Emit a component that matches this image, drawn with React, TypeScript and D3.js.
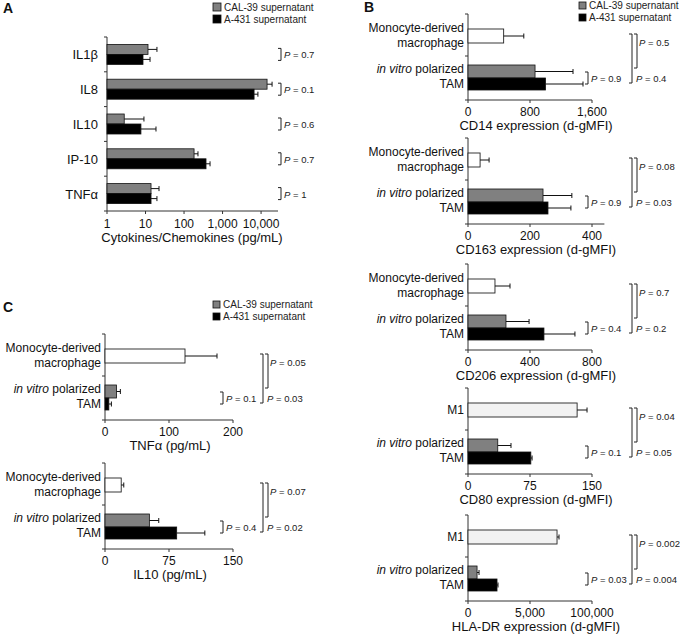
import React from 'react';
import * as d3 from 'd3';

const FONT = '"Liberation Sans", Arial, Helvetica, sans-serif';

// Panel A: cytokines (log scale)
const cytokines = ['IL1β', 'IL8', 'IL10', 'IP-10', 'TNFα'];
const cytoCal39 = [11.6, 14300, 2.8, 182, 13.9];
const cytoCal39Err = [8.2, 5000, 6.3, 48, 8.5];
const cytoA431 = [8.6, 6580, 7.6, 372, 13.9];
const cytoA431Err = [4.5, 1700, 11.1, 101, 5.9];
const cytoP = ['0.7', '0.1', '0.6', '0.7', '1'];
const cytoTicks = [1, 10, 100, 1000, 10000];
const cytoTickLabels = ['1', '10', '100', '1,000', '10,000'];

// Panel B: surface markers
const markerTitles = [
    'CD14 expression (d-gMFI)',
    'CD163 expression (d-gMFI)',
    'CD206 expression (d-gMFI)',
    'CD80 expression (d-gMFI)',
    'HLA-DR expression (d-gMFI)'
];
const markerRef = ['macrophage', 'macrophage', 'macrophage', 'M1', 'M1'];
const markerRefValues = [460, 39, 174, 132, 7180];
const markerRefErrors = [260, 29, 97, 12, 160];
const markerCal39 = [865, 242, 245, 36, 730];
const markerCal39Err = [490, 93, 149, 16, 160];
const markerA431 = [1000, 258, 490, 76, 2340];
const markerA431Err = [484, 74, 200, 1.5, 80];
const markerMax = [1600, 440, 800, 150, 10000];
const markerTicks = [[0, 800, 1600], [0, 200, 400], [0, 400, 800], [0, 75, 150], [0, 5000, 10000]];
const markerTickLabels = [
    ['0', '800', '1,600'],
    ['0', '200', '400'],
    ['0', '400', '800'],
    ['0', '75', '150'],
    ['0', '5,000', '100,000']
];
const markerPInner = ['0.9', '0.9', '0.4', '0.1', '0.03'];
const markerPTop = ['0.5', '0.08', '0.7', '0.04', '0.002'];
const markerPBottom = ['0.4', '0.03', '0.2', '0.05', '0.004'];
const markerTops = [14, 138, 264, 388, 515];

// Panel C: secreted cytokines
const secTitles = ['TNFα (pg/mL)', 'IL10 (pg/mL)'];
const secRefValues = [125, 19];
const secRefErrors = [50, 3];
const secCal39 = [18, 52];
const secCal39Err = [6, 11];
const secA431 = [6, 84];
const secA431Err = [4, 33];
const secMax = [200, 150];
const secTicks = [[0, 100, 200], [0, 75, 150]];
const secTickLabels = [['0', '100', '200'], ['0', '75', '150']];
const secPInner = ['0.1', '0.4'];
const secPTop = ['0.05', '0.07'];
const secPBottom = ['0.03', '0.02'];
const secTops = [334, 463];

const GRAY = '#808080';

function PText({ x, y, value }) {
    return (
        <text x={x} y={y} fontSize={9.5} fontFamily={FONT} fill="#222">
            <tspan fontStyle="italic">P</tspan>
            {` = ${value}`}
        </text>
    );
}

function Bracket({ x, y1, y2 }) {
    return <path d={`M${x - 3},${y1}H${x}V${y2}H${x - 3}`} fill="none" stroke="#222" strokeWidth={1} />;
}

function ErrBar({ x1, x2, y }) {
    return (
        <g stroke="#111" strokeWidth={1}>
            <line x1={x1} x2={x2} y1={y} y2={y} />
            <line x1={x2} x2={x2} y1={y - 2.5} y2={y + 2.5} />
        </g>
    );
}

function Legend({ x, y, size }) {
    return (
        <g fontFamily={FONT} fontSize={10} fill="#222">
            <rect x={x} y={y} width={size} height={size} fill={GRAY} stroke="#111" strokeWidth={0.8} />
            <text x={x + size + 3} y={y + size}>CAL-39 supernatant</text>
            <rect x={x} y={y + 12} width={size} height={size} fill="#000" stroke="#111" strokeWidth={0.8} />
            <text x={x + size + 3} y={y + 12 + size}>A-431 supernatant</text>
        </g>
    );
}

function CytokinePanel() {
    const x = d3.scaleLog().domain([1, 27500]).range([107, 278]);
    const y = d3.scaleBand().domain(cytokines).range([37, 211]);
    const bw = y.bandwidth();
    const x0 = x(1);
    return (
        <g fontFamily={FONT}>
            <g stroke="#333" strokeWidth={1}>
                <line x1={x0} x2={x0} y1={37} y2={211} />
                {cytokines.map((c) => (
                    <line key={c} x1={x0 - 3} x2={x0} y1={y(c)} y2={y(c)} />
                ))}
                <line x1={x0 - 3} x2={x0} y1={211} y2={211} />
                <line x1={x0} x2={278} y1={211} y2={211} />
                {cytoTicks.map((t) => (
                    <line key={t} x1={x(t)} x2={x(t)} y1={211} y2={214} />
                ))}
            </g>
            {cytokines.map((c, i) => {
                const cy = y(c) + bw / 2;
                return (
                    <g key={c}>
                        <text x={98} y={cy + 5} textAnchor="end" fontSize={13} fill="#111">{c}</text>
                        <rect x={x0} y={cy - 10} width={x(cytoCal39[i]) - x0} height={10} fill={GRAY} stroke="#111" strokeWidth={0.8} />
                        <rect x={x0} y={cy} width={x(cytoA431[i]) - x0} height={10} fill="#000" stroke="#111" strokeWidth={0.8} />
                        <ErrBar x1={x(cytoCal39[i])} x2={x(cytoCal39[i] + cytoCal39Err[i])} y={cy - 5} />
                        <ErrBar x1={x(cytoA431[i])} x2={x(cytoA431[i] + cytoA431Err[i])} y={cy + 5} />
                        <Bracket x={281} y1={cy - 6} y2={cy + 6} />
                        <PText x={284} y={cy + 4} value={cytoP[i]} />
                    </g>
                );
            })}
            {cytoTicks.map((t, i) => (
                <text key={t} x={x(t)} y={228} textAnchor="middle" fontSize={12} fill="#111">{cytoTickLabels[i]}</text>
            ))}
            <text x={192} y={242} textAnchor="middle" fontSize={13} fill="#111">Cytokines/Chemokines (pg/mL)</text>
        </g>
    );
}

function BarPlot({
    top, left, right, max, ticks, tickLabels, title, titleX, refKind,
    refVal, refErr, calVal, calErr, a431Val, a431Err, pIn, pTop, pBot, innerX, outerX
}) {
    const x = d3.scaleLinear().domain([0, max]).range([left, right]);
    const y = d3.scalePoint().domain(['ref', 'tam']).range([top + 22, top + 64]);
    const bottom = top + 86;
    const W = y('ref');
    const Pc = y('tam');
    const isM1 = refKind === 'M1';
    return (
        <g fontFamily={FONT} fill="#111">
            <g stroke="#333" strokeWidth={1}>
                <line x1={left} x2={left} y1={top} y2={bottom} />
                <line x1={left - 3} x2={left} y1={top} y2={top} />
                <line x1={left - 3} x2={left} y1={(W + Pc) / 2 - 1} y2={(W + Pc) / 2 - 1} />
                <line x1={left - 3} x2={left} y1={bottom} y2={bottom} />
                <line x1={left} x2={right} y1={bottom} y2={bottom} />
                {ticks.map((t) => (
                    <line key={t} x1={x(t)} x2={x(t)} y1={bottom} y2={bottom + 3} />
                ))}
            </g>
            {isM1 ? (
                <text x={left - 4} y={W + 4} textAnchor="end" fontSize={12}>M1</text>
            ) : (
                <g>
                    <text x={left - 4} y={W - 4} textAnchor="end" fontSize={12}>Monocyte-derived</text>
                    <text x={left - 4} y={W + 11} textAnchor="end" fontSize={12}>macrophage</text>
                </g>
            )}
            <text x={left - 4} y={Pc - 5} textAnchor="end" fontSize={12}>
                <tspan fontStyle="italic">in vitro</tspan>
                {' polarized'}
            </text>
            <text x={left - 4} y={Pc + 10} textAnchor="end" fontSize={12}>TAM</text>

            <rect x={left} y={W - 7} width={x(refVal) - left} height={14} fill={isM1 ? '#f2f2f2' : '#fff'} stroke="#222" strokeWidth={0.9} />
            <rect x={left} y={Pc - 13} width={x(calVal) - left} height={13} fill={GRAY} stroke="#111" strokeWidth={0.8} />
            <rect x={left} y={Pc} width={x(a431Val) - left} height={12} fill="#000" stroke="#111" strokeWidth={0.8} />
            <ErrBar x1={x(refVal)} x2={x(refVal + refErr)} y={W} />
            <ErrBar x1={x(calVal)} x2={x(calVal + calErr)} y={Pc - 6.5} />
            <ErrBar x1={x(a431Val)} x2={x(a431Val + a431Err)} y={Pc + 6} />

            <Bracket x={innerX} y1={Pc - 6} y2={Pc + 6} />
            <PText x={innerX + 3} y={Pc + 4} value={pIn} />
            <Bracket x={outerX} y1={W - 2} y2={Pc + 5} />
            <Bracket x={outerX + 5} y1={W - 2} y2={Pc - 10} />
            <PText x={outerX + 7} y={W + 10} value={pTop} />
            <PText x={outerX + 4} y={Pc + 4} value={pBot} />

            {ticks.map((t, i) => (
                <text key={t} x={x(t)} y={bottom + 16} textAnchor="middle" fontSize={12}>{tickLabels[i]}</text>
            ))}
            <text x={titleX} y={bottom + 30} textAnchor="middle" fontSize={13}>{title}</text>
        </g>
    );
}

export default function App() {
    return (
        <svg width={680} height={634} style={{ position: 'absolute', left: 0, top: 0, background: '#fff' }}>
            <rect width={680} height={634} fill="#fff" />
            <g fontFamily={FONT} fontWeight="bold" fontSize={14} fill="#111">
                <text x={3} y={13}>A</text>
                <text x={364} y={12}>B</text>
                <text x={3} y={312}>C</text>
            </g>
            <Legend x={213} y={3} size={8} />
            <Legend x={579} y={2} size={7} />
            <Legend x={213} y={301} size={7} />

            <CytokinePanel />

            {markerTitles.map((title, i) => (
                <BarPlot
                    key={title}
                    top={markerTops[i]}
                    left={468}
                    right={468 + (124 * markerMax[i]) / markerTicks[i][2]}
                    max={markerMax[i]}
                    ticks={markerTicks[i]}
                    tickLabels={markerTickLabels[i]}
                    title={title}
                    titleX={536}
                    refKind={markerRef[i]}
                    refVal={markerRefValues[i]}
                    refErr={markerRefErrors[i]}
                    calVal={markerCal39[i]}
                    calErr={markerCal39Err[i]}
                    a431Val={markerA431[i]}
                    a431Err={markerA431Err[i]}
                    pIn={markerPInner[i]}
                    pTop={markerPTop[i]}
                    pBot={markerPBottom[i]}
                    innerX={588}
                    outerX={632}
                />
            ))}

            {secTitles.map((title, i) => (
                <BarPlot
                    key={title}
                    top={secTops[i]}
                    left={105}
                    right={233}
                    max={secMax[i]}
                    ticks={secTicks[i]}
                    tickLabels={secTickLabels[i]}
                    title={title}
                    titleX={170}
                    refKind="macrophage"
                    refVal={secRefValues[i]}
                    refErr={secRefErrors[i]}
                    calVal={secCal39[i]}
                    calErr={secCal39Err[i]}
                    a431Val={secA431[i]}
                    a431Err={secA431Err[i]}
                    pIn={secPInner[i]}
                    pTop={secPTop[i]}
                    pBot={secPBottom[i]}
                    innerX={223}
                    outerX={263}
                />
            ))}
        </svg>
    );
}
